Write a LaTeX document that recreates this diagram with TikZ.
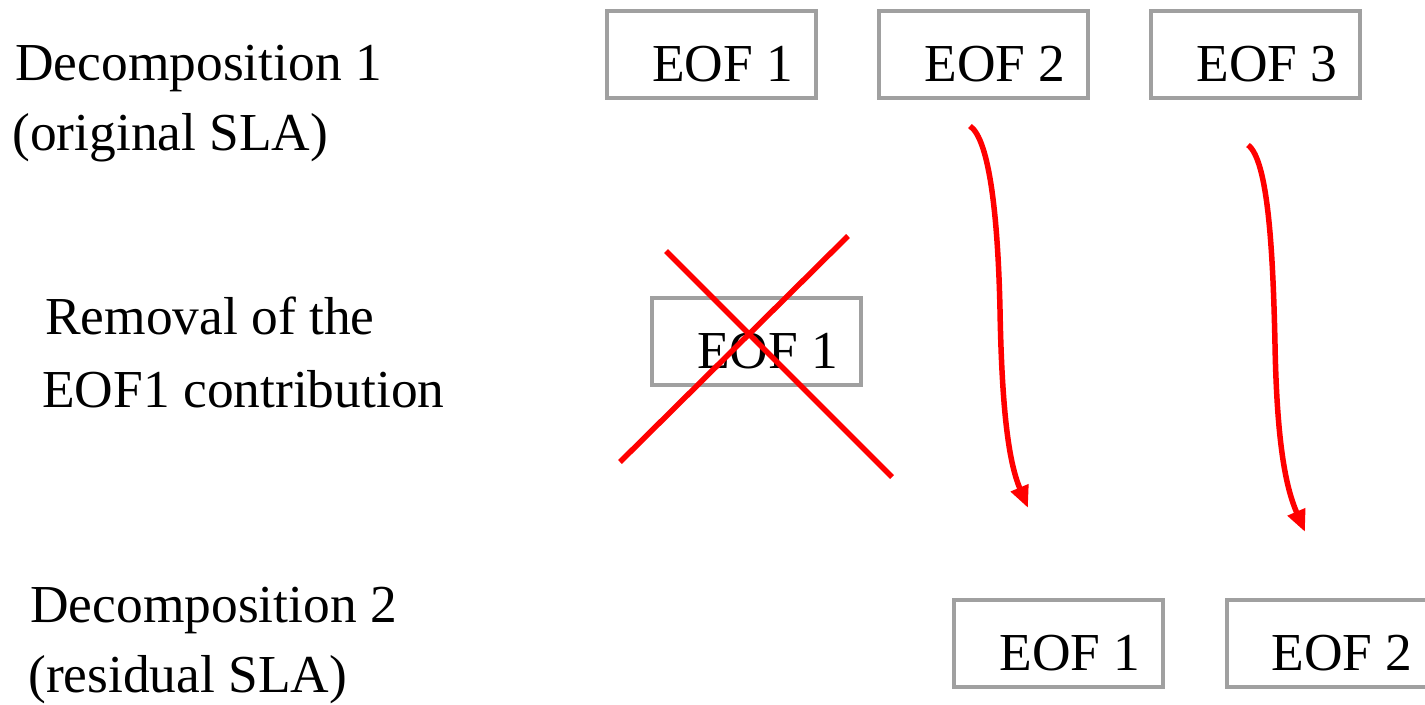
\documentclass[tikz,border=0pt]{standalone}
\usepackage{fontspec}
\setmainfont{Liberation Serif}
\usetikzlibrary{arrows.meta}
\definecolor{boxgray}{HTML}{A0A0A0}
\definecolor{xred}{HTML}{FF0000}
\tikzset{
  eofbox/.style={draw=boxgray, line width=0.08cm, minimum width=4.18cm, minimum height=1.74cm, inner sep=0pt, fill=none},
  txt/.style={font=\fontsize{30.4}{36}\selectfont, inner sep=0pt, anchor=base west},
  cross/.style={draw=xred, line width=0.11cm},
  flow/.style={draw=xred, line width=0.11cm, -{Triangle[length=0.44cm,width=0.36cm]}},
}
\begin{document}
\begin{tikzpicture}[x=0.02cm,y=-0.02cm]
\useasboundingbox (0,0) rectangle (1425,704);
% left labels
\node[txt] (l1a) at (15,80) {Decomposition 1};
\node[txt] (l1b) at (12,150) {(original SLA)};
\node[txt] (l2a) at (45,334) {Removal of the};
\node[txt] (l2b) at (42,407) {EOF1 contribution};
\node[txt] (l3a) at (30,622) {Decomposition 2};
\node[txt] (l3b) at (28,692) {(residual SLA)};
% top boxes
\node[eofbox] (a1) at (711.5,54.5) {};
\node[txt] (a1t) at (652,81) {EOF 1};
\node[eofbox] (a2) at (983.5,54.5) {};
\node[txt] (a2t) at (924,81) {EOF 2};
\node[eofbox] (a3) at (1255.5,54.5) {};
\node[txt] (a3t) at (1196,81) {EOF 3};
% middle box
\node[eofbox] (m1) at (756.5,341.5) {};
\node[txt] (m1t) at (697,368) {EOF 1};
% bottom boxes
\node[eofbox] (b1) at (1058.5,643.5) {};
\node[txt] (b1t) at (999,670) {EOF 1};
\node[eofbox] (b2) at (1331.5,643.5) {};
\node[txt] (b2t) at (1271,670) {EOF 2};
% cross
\coordinate (c1s) at (666,251);
\coordinate (c1e) at (892,477);
\coordinate (c2s) at (848,236);
\coordinate (c2e) at (620,462);
\draw[cross] (c1s) -- (c1e);
\draw[cross] (c2s) -- (c2e);
% arrows
\coordinate (f1s) at (970,126);
\coordinate (f1m) at (1000,310);
\coordinate (f1e) at (1028,508);
\coordinate (f2s) at (1248,145);
\coordinate (f2m) at (1275,345);
\coordinate (f2e) at (1305,532);
\draw[flow] (f1s) .. controls (990,140) and (998,220) .. (f1m) .. controls (1002,420) and (1010,465) .. (f1e);
\draw[flow] (f2s) .. controls (1268,160) and (1273,250) .. (f2m) .. controls (1277,450) and (1287,490) .. (f2e);
\end{tikzpicture}
\end{document}
